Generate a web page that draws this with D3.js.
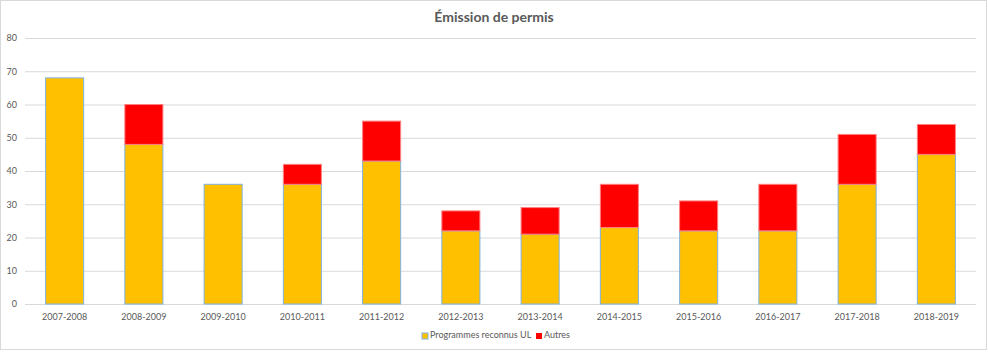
<!DOCTYPE html>
<html>
<head>
<meta charset="utf-8">
<script src="https://cdn.jsdelivr.net/npm/d3@7"></script>
<style>
  body { margin: 0; background: white; }
  text { font-family: Lato, "Open Sans", sans-serif; }
</style>
</head>
<body>
<div id="chart"></div>
<script>
const years = ['2007-2008','2008-2009','2009-2010','2010-2011','2011-2012','2012-2013',
               '2013-2014','2014-2015','2015-2016','2016-2017','2017-2018','2018-2019'];
const programmes = [68, 48, 36, 36, 43, 22, 21, 23, 22, 22, 36, 45];
const autres = [0, 12, 0, 6, 12, 6, 8, 13, 9, 14, 15, 9];
const seriesNames = ['Programmes reconnus UL', 'Autres'];
const yTicks = [0, 10, 20, 30, 40, 50, 60, 70, 80];

function chart(selector) {
	let width = 988,
		height = 352,
		margin = {top: 38, right: 12, bottom: 48, left: 25},
		colors = d3.scaleOrdinal().domain(seriesNames).range(['#FFC000', '#FF0000']),
		strokes = d3.scaleOrdinal().domain(seriesNames).range(['#7FB2E0', '#FF8080']);

	let svg = d3.select(selector)
		.append('svg')
			.attr('width', width)
			.attr('height', height)
			.style('display', 'block')
			.style('background', 'white');

	// outer border
	svg.append('rect')
		.attr('x', 0.5).attr('y', 0.5)
		.attr('width', 986).attr('height', 349)
		.attr('fill', 'none')
		.attr('stroke', '#d9d9d9');

	let x = d3.scaleBand()
		.domain(years)
		.range([margin.left, width - margin.right])
		.paddingInner(0.52)
		.paddingOuter(0.26);

	let y = d3.scaleLinear()
		.domain([0, 80])
		.range([height - margin.bottom, margin.top]);

	// gridlines + y labels
	svg.append('g')
		.attr('transform', 'translate(' + margin.left + ',0)')
		.call(d3.axisLeft(y).tickValues(yTicks).tickSize(-(width - margin.left - margin.right)).tickPadding(8))
		.call(g => g.select('.domain').remove())
		.call(g => g.selectAll('.tick line').attr('stroke', '#d9d9d9').attr('stroke-width', 1))
		.call(g => g.selectAll('.tick text').attr('fill', '#595959').style('font-size', '9px'));

	let rows = years.map((yr, i) => ({year: yr, 'Programmes reconnus UL': programmes[i], 'Autres': autres[i]}));
	let stacked = d3.stack().keys(seriesNames)(rows);

	svg.append('g')
		.selectAll('g')
		.data(stacked)
		.enter()
		.append('g')
			.attr('fill', d => colors(d.key))
			.attr('stroke', d => strokes(d.key))
		.selectAll('rect')
		.data(d => d.filter(s => s[1] - s[0] > 0))
		.enter()
		.append('rect')
			.attr('x', d => x(d.data.year))
			.attr('y', d => y(d[1]))
			.attr('width', x.bandwidth())
			.attr('height', d => y(d[0]) - y(d[1]))
			.attr('stroke-width', 1);

	// x axis labels
	svg.append('g')
		.attr('transform', 'translate(0,' + (height - margin.bottom) + ')')
		.call(d3.axisBottom(x).tickSize(0).tickPadding(10))
		.call(g => g.select('.domain').remove())
		.call(g => g.selectAll('.tick text').attr('fill', '#595959').style('font-size', '9px'));

	// title
	svg.append('text')
		.attr('x', 494)
		.attr('y', 22)
		.attr('text-anchor', 'middle')
		.attr('fill', '#595959')
		.style('font-size', '14px')
		.style('font-weight', 'bold')
		.text('Émission de permis');

	// legend
	let legend = svg.append('g');
	let lx = [422, 536];
	seriesNames.forEach((name, i) => {
		legend.append('rect')
			.attr('x', lx[i]).attr('y', 333)
			.attr('width', 6).attr('height', 6)
			.attr('fill', colors(name))
			.attr('stroke', i === 0 ? '#7FB2E0' : 'none');
		legend.append('text')
			.attr('x', lx[i] + 8).attr('y', 336)
			.attr('dominant-baseline', 'middle')
			.attr('fill', '#595959')
			.style('font-size', '9px')
			.text(name);
	});

	return chart;
}
chart('#chart');
</script>
</body>
</html>
